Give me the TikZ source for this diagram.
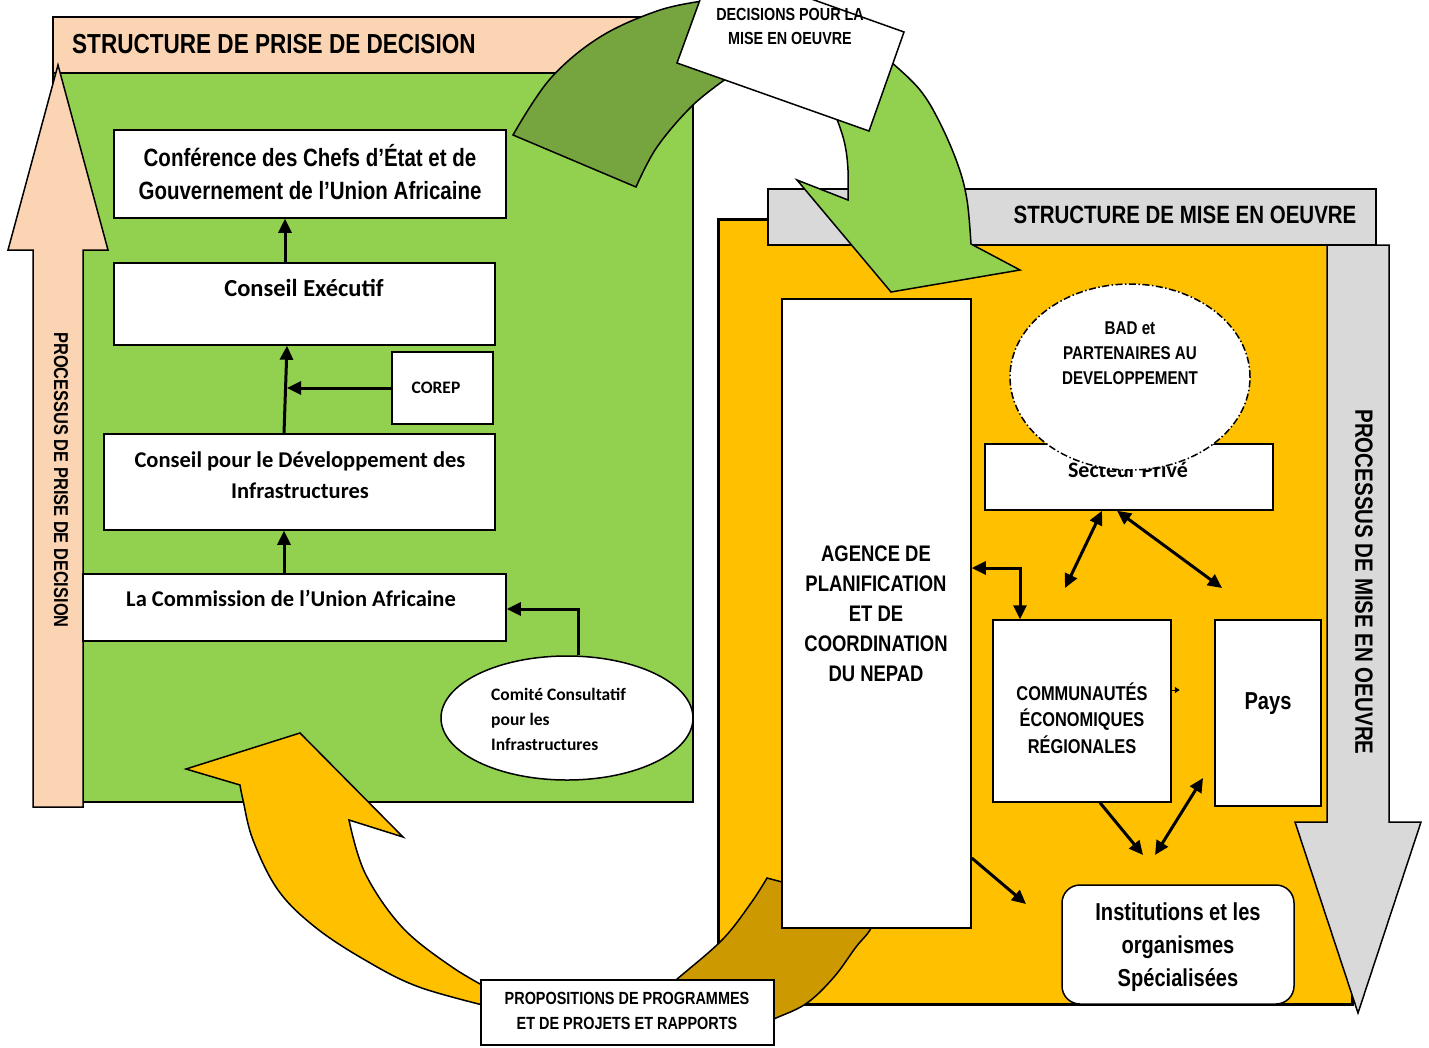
\documentclass[tikz,border=0pt]{standalone}
\usepackage{fontspec}
\setmainfont{Liberation Sans}
\newfontfamily\nar[FakeStretch=0.82]{Liberation Sans}
\newfontfamily\calfont{Carlito}
\usetikzlibrary{arrows.meta,shapes.geometric}
\definecolor{peach}{HTML}{FBD4B4}
\definecolor{lgreen}{HTML}{92D050}
\definecolor{dgreen}{HTML}{76A540}
\definecolor{orng}{HTML}{FFC000}
\definecolor{dyel}{HTML}{CC9A00}
\definecolor{lgray}{HTML}{D9D9D9}
\newcommand{\nf}[2]{\nar\bfseries\fontsize{#1}{#2}\selectfont}
\newcommand{\cf}[2]{\calfont\bfseries\fontsize{#1}{#2}\selectfont}
\begin{document}
\begin{tikzpicture}[x=1pt,y=-1pt,
  box/.style={draw, fill=white, line width=1.5pt, inner sep=0pt},
  txt/.style={inner sep=0pt, align=center, text=black},
  conn/.style={line width=3pt, -{Triangle[length=14pt,width=13pt]}},
  dconn/.style={line width=3pt, {Triangle[length=14pt,width=13pt]}-{Triangle[length=14pt,width=13pt]}},
  shp/.style={draw, line width=1.5pt, line join=miter}]
\useasboundingbox (0,0) rectangle (1429,1047);
\fill[white] (0,0) rectangle (1429,1047);
\clip (0,0) rectangle (1429,1047);

% ---------- decision structure ----------
\draw[shp, fill=peach] (53,17) rectangle (693,73);
\draw[shp, fill=lgreen] (53,73) rectangle (693,802);
\node[txt, anchor=west, font=\nf{27.5}{30}] (hd1) at (72,44) {STRUCTURE DE PRISE DE DECISION};

\draw[shp, fill=peach] (33,807) -- (33,250) -- (8,250) -- (58,65) -- (108,250) -- (83,250) -- (83,807) -- cycle;
\node[txt, rotate=-90, font=\nf{20}{24}] (pl) at (61,480) {PROCESSUS DE PRISE DE DECISION};

\node[box, minimum width=392pt, minimum height=88pt] (conf) at (310,174) {};
\node[txt, font=\nf{25}{33}] (conft) at (310,172) {Conférence des Chefs d’État et de\\Gouvernement de l’Union Africaine};
\node[box, minimum width=381pt, minimum height=82pt] (exec) at (304.5,304) {};
\node[txt, font=\cf{24.5}{28}] (exect) at (304,288) {Conseil Exécutif};
\node[box, minimum width=101pt, minimum height=72pt] (corep) at (442.5,388) {};
\node[txt, font=\cf{17.5}{20}] (corept) at (436,388) {COREP};
\node[box, minimum width=391pt, minimum height=96pt] (cdi) at (299.5,482) {};
\node[txt, font=\cf{22.5}{31}] (cdit) at (300,475) {Conseil pour le Développement des\\Infrastructures};
\node[box, minimum width=423pt, minimum height=67pt] (cua) at (294.5,607.5) {};
\node[txt, font=\cf{22.5}{28}] (cuat) at (291,598) {La Commission de l’Union Africaine};
\node[box, ellipse, minimum width=252pt, minimum height=124pt] (cci) at (567,718) {};
\node[txt, align=left, anchor=west, font=\cf{17.5}{25}] (ccit) at (491,719) {Comité Consultatif\\pour les\\Infrastructures};

\coordinate (j1) at (287,388);
\draw[conn] (exec.north -| 285,0) -- (conf.south -| 285,0);
\draw[conn] (cdi.north -| 284,0) -- (exec.south -| 287,0);
\draw[conn] (corep.west) -- (j1);
\draw[conn] (cua.north -| 284,0) -- (cdi.south -| 284,0);
\draw[conn] (cci.north -| 578,0) |- (cua.east |- 0,609);

% ---------- implementation structure ----------
\draw[line width=3pt, fill=orng] (718,219) rectangle (1352,1004);

% dark yellow back of curved arrow
\draw[shp, fill=dyel] (767,878) -- (880,908)
  -- plot[smooth, tension=0.6] coordinates {(880,908) (870,930) (856,947) (834,977) (807,1003) (776,1018) (740,1032)}
  -- (700,1012)
  -- plot[smooth, tension=0.6] coordinates {(660,995) (676,980) (722,940) (751,903) (767,878)} -- cycle;

\draw[shp, fill=lgray] (768,189) rectangle (1376,245);
\node[txt, font=\nf{25}{28}] (hd2) at (1185,215) {STRUCTURE DE MISE EN OEUVRE};
\draw[shp, fill=lgray] (1327,245) -- (1389,245) -- (1389,822) -- (1421,822) -- (1358,1013) -- (1295,822) -- (1327,822) -- cycle;
\node[txt, rotate=-90, font=\nf{25}{28}] (pr) at (1364,582) {PROCESSUS DE MISE EN OEUVRE};

\node[box, minimum width=189pt, minimum height=629pt] (agence) at (876.5,613.5) {};
\node[txt, font=\nf{22.5}{30}] (agencet) at (876,614) {AGENCE DE\\PLANIFICATION\\ET DE\\COORDINATION\\DU NEPAD};
\node[box, minimum width=288pt, minimum height=66pt] (sp) at (1129,477) {};
\node[txt, font=\cf{22}{26}] (spt) at (1128,470) {Secteur Privé};
\node[box, ellipse, dash pattern=on 7pt off 2.5pt on 1.5pt off 2.5pt, minimum width=240pt, minimum height=186pt] (bad) at (1130,377) {};
\node[txt, font=\nf{18.5}{25}] (badt) at (1130,353) {BAD et\\PARTENAIRES AU\\DEVELOPPEMENT};
\node[box, minimum width=178pt, minimum height=182pt] (cer) at (1082,711) {};
\node[txt, font=\nf{20}{26.5}] (cert) at (1082,718) {COMMUNAUTÉS\\ÉCONOMIQUES\\RÉGIONALES};
\node[box, minimum width=106pt, minimum height=186pt] (pays) at (1268,713) {};
\node[txt, font=\nf{24.5}{28}] (payst) at (1268,704) {Pays};
\node[box, rounded corners=18pt, minimum width=232pt, minimum height=119pt] (inst) at (1178,944.5) {};
\node[txt, font=\nf{24.5}{33}] (instt) at (1178,947) {Institutions et les\\organismes\\Spécialisées};

\coordinate (p1) at (1065,588);
\coordinate (p2) at (1222,588);
\coordinate (p3) at (1143,855);
\coordinate (p4) at (1155,855);
\coordinate (p5) at (1203,778);
\coordinate (p6) at (1026,904);
\draw[dconn] (agence.east |- 0,568) -| (cer.north -| 1020,0);
\draw[dconn] (sp.south -| 1102,0) -- (p1);
\draw[dconn] (sp.south -| 1117,0) -- (p2);
\draw[conn] (cer.south -| 1100,0) -- (p3);
\draw[dconn] (p4) -- (p5);
\draw[conn] (agence.east |- 0,858) -- (p6);
\draw[line width=1pt, -{Triangle[length=5pt,width=6pt]}] (cer.east |- 0,690) -- ++(8,0);

% ---------- yellow curved arrow (left) ----------
\draw[shp, fill=orng] (186,769) -- (300,733) -- (403,837) -- (349,820)
  -- plot[smooth, tension=0.6] coordinates {(349,820) (365,873) (402,927) (452,967) (495,992)}
  -- (505,1008)
  -- plot[smooth, tension=0.6] coordinates {(495,1008) (419,987) (365,960) (315,927) (278,890) (253,840) (243,800) (240,785)}
  -- cycle;
\node[box, minimum width=293pt, minimum height=65pt] (prop) at (627.5,1012.5) {};
\node[txt, font=\nf{17.6}{25}] (propt) at (627,1011) {PROPOSITIONS DE PROGRAMMES\\ET DE PROJETS ET RAPPORTS};

% ---------- green curved arrow (top) ----------
\draw[shp, fill=dgreen] (513,135) -- (636,187)
  -- plot[smooth, tension=0.6] coordinates {(636,187) (657,147) (693,105) (730,76)}
  -- (720,-5)
  -- plot[smooth, tension=0.6] coordinates {(710,0) (660,10) (600,37) (550,79) (513,135)}
  -- cycle;
\draw[shp, fill=lgreen] (870,45)
  -- plot[smooth, tension=0.6] coordinates {(870,45) (890,61) (920,90) (940,123) (958,165) (967,200) (971,244)}
  -- (1020,270) -- (891,292) -- (797,180) -- (848,200)
  -- plot[smooth, tension=0.6] coordinates {(848,200) (848,170) (845,145) (838,122) (828,100)}
  -- cycle;
\draw[shp, fill=white] (713,-36) -- (904,32) -- (869,131) -- (677,63) -- cycle;
\node[txt, font=\nf{17.5}{24}] (dect) at (790,26) {DECISIONS POUR LA\\MISE EN OEUVRE};
\end{tikzpicture}
\end{document}
